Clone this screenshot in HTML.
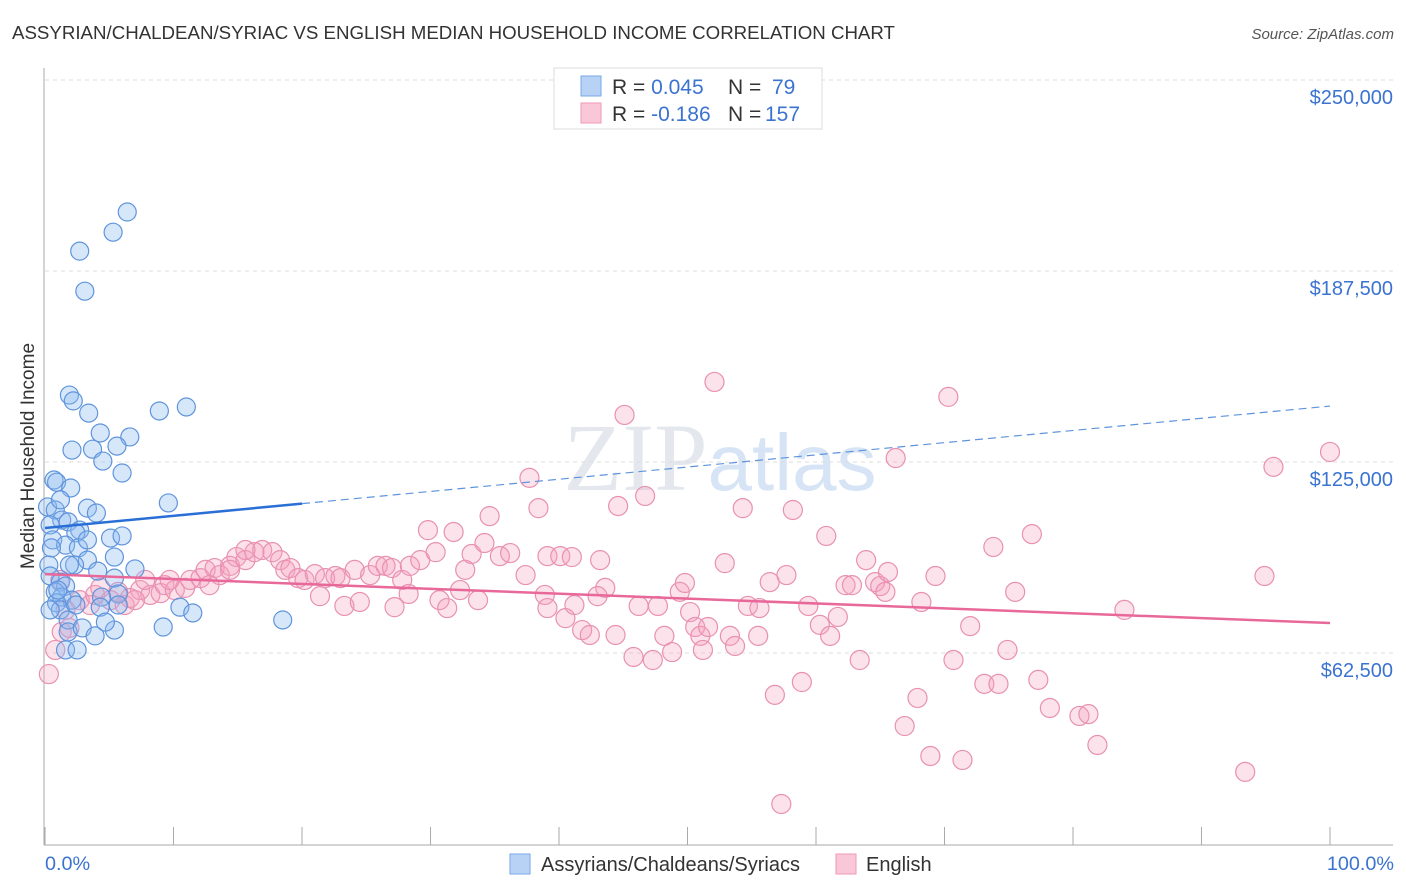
<!DOCTYPE html>
<html><head><meta charset="utf-8"><style>
body{margin:0;background:#fff;font-family:"Liberation Sans",sans-serif;}
svg{display:block}
</style></head><body>
<svg id="chart" width="1406" height="892">
<text x="12" y="39" font-size="18.7" fill="#333">ASSYRIAN/CHALDEAN/SYRIAC VS ENGLISH MEDIAN HOUSEHOLD INCOME CORRELATION CHART</text>
<text x="1394" y="39" font-size="15" fill="#555" font-style="italic" text-anchor="end">Source: ZipAtlas.com</text>
<text x="720" y="490" font-size="96" fill="#e4e8ee" text-anchor="middle" font-family="Liberation Serif,serif">ZIP<tspan fill="#d6e4f5" font-family="Liberation Sans,sans-serif" font-size="80">atlas</tspan></text>
<g id="grid"></g><g id="axes"></g><g id="pink"></g><g id="blue"></g><g id="trends"></g>
<text transform="translate(34,456) rotate(-90)" font-size="19" fill="#333" text-anchor="middle">Median Household Income</text>
<text x="45" y="870" font-size="19.8" fill="#3b73d1">0.0%</text>
<text x="1394" y="870" font-size="19.8" fill="#3b73d1" text-anchor="end">100.0%</text>
<g>
<rect x="554" y="68" width="268" height="61" fill="#fff" stroke="#ddd"/>
<rect x="581" y="76" width="20" height="20" fill="#b7d2f5" stroke="#7aa8e6"/>
<rect x="581" y="103" width="20" height="20" fill="#f9c7d7" stroke="#ee9ab6"/>
<text x="612" y="94" font-size="21" fill="#333">R = <tspan fill="#3b73d1">0.045</tspan><tspan x="728">N = </tspan><tspan fill="#3b73d1" x="772">79</tspan></text>
<text x="612" y="121" font-size="21" fill="#333">R = <tspan fill="#3b73d1">-0.186</tspan><tspan x="728">N = </tspan><tspan fill="#3b73d1" x="765">157</tspan></text>
</g>
<g>
<rect x="510" y="854" width="20" height="20" fill="#b7d2f5" stroke="#7aa8e6"/>
<text x="541" y="871" font-size="20" fill="#333">Assyrians/Chaldeans/Syriacs</text>
<rect x="836" y="854" width="20" height="20" fill="#f9c7d7" stroke="#ee9ab6"/>
<text x="866" y="871" font-size="20" fill="#333">English</text>
</g>
</svg>
<script>
const yTicks=[62500,125000,187500,250000];
const yTickLabels=["$62,500","$125,000","$187,500","$250,000"];
const xTicks=[0,10,20,30,40,50,60,70,80,90,100];
const blueX=[6.4,5.3,2.7,3.1,1.9,2.2,3.4,8.9,11.0,4.3,6.6,2.1,3.7,5.6,4.5,6.0,0.7,0.9,2.0,9.6,3.3,4.0,0.2,0.8,1.2,1.3,0.4,1.8,2.7,2.4,5.1,6.0,0.6,1.6,2.6,5.4,3.3,0.3,2.3,7.0,4.1,5.4,0.4,1.2,1.6,0.8,5.7,1.3,2.1,0.9,1.2,4.4,2.4,1.8,4.3,5.7,10.5,11.5,9.2,18.5,1.8,2.9,3.9,5.4,4.7,1.6,2.5,0.4,1.0,0.5,1.9,3.3];
const blueY=[206.8,200.2,194.0,180.9,146.9,145.0,141.0,141.7,143.0,134.5,133.2,128.9,129.2,130.2,125.3,121.4,119.1,118.4,116.5,111.6,109.9,108.3,110.3,109.3,112.6,106.0,104.4,105.4,102.7,101.8,100.1,100.8,99.5,97.8,96.9,93.9,92.9,91.3,91.3,90.0,89.3,87.0,87.7,85.7,84.4,82.5,81.8,80.8,79.8,78.9,76.6,80.8,78.2,73.3,77.5,78.2,77.5,75.6,71.0,73.3,69.4,70.7,68.1,70.0,72.6,63.5,63.5,76.6,83.1,96.9,91.3,99.5];
const pinkX=[0.3,0.8,1.3,1.9,1.6,2.7,3.5,3.9,5.1,6.2,6.6,7.4,8.2,9.0,9.3,10.1,10.9,11.3,12.1,12.5,13.2,13.6,14.4,14.9,15.6,16.3,16.9,17.7,18.3,18.7,19.1,19.7,20.2,21.0,21.4,21.8,22.6,23.0,23.3,24.1,24.5,25.3,25.9,26.5,27.0,27.2,27.8,28.3,28.4,29.2,29.8,30.4,30.7,31.3,31.8,32.3,32.7,33.2,33.7,34.2,34.6,35.4,36.2,37.4,37.7,38.4,38.9,39.1,39.1,40.1,40.5,41.0,41.2,41.8,42.4,43.2,43.6,43.0,44.4,44.6,45.1,45.8,46.2,46.7,47.3,47.7,48.2,48.8,49.4,49.8,50.2,50.6,51.0,51.2,51.6,52.1,52.9,53.3,53.7,54.3,54.7,55.5,55.6,56.4,56.8,57.3,57.7,58.2,58.9,59.4,60.3,60.8,61.1,61.7,62.3,62.8,63.4,63.9,64.6,65.0,65.4,65.6,66.2,66.9,67.9,68.2,68.9,69.3,70.3,70.7,71.4,72.0,73.1,73.8,74.2,74.9,75.5,76.8,77.3,78.2,80.5,81.2,81.9,84.0,93.4,94.9,95.6,100.0,4.3,5.7,7.8,9.7,12.8,14.4,15.6,7.0,1.2];
const pinkY=[55.6,63.5,69.4,70.7,76.6,79.8,78.2,81.5,79.8,78.2,80.5,83.1,81.5,82.1,84.7,83.1,83.8,86.4,87.0,89.7,90.3,88.0,91.0,93.9,92.9,95.5,96.2,95.5,92.9,89.7,90.3,87.0,86.4,88.3,81.1,87.0,87.7,87.0,77.9,89.7,79.2,88.0,91.0,91.0,90.3,77.5,86.4,81.8,91.0,92.9,102.7,95.5,79.8,77.2,102.1,83.1,89.7,94.9,79.8,98.5,107.3,94.2,95.2,88.0,119.8,109.9,81.5,77.2,94.2,94.2,73.9,93.9,78.2,70.0,68.4,92.9,83.8,81.1,68.4,110.6,140.4,61.2,77.9,113.9,60.2,77.9,68.1,62.8,82.5,85.4,75.9,71.0,68.1,63.5,71.0,151.2,91.9,68.1,64.8,109.9,77.9,68.1,77.2,85.7,48.8,13.1,88.0,109.3,53.0,77.9,71.7,100.8,68.1,74.3,84.7,84.7,60.2,92.9,85.7,84.4,82.5,89.0,126.3,38.6,47.8,79.2,28.8,87.7,146.3,60.2,27.5,71.3,52.4,97.2,52.4,63.5,82.5,101.4,53.7,44.5,41.9,42.5,32.4,76.6,23.6,87.7,123.4,128.3,83.8,82.5,86.4,86.4,84.7,89.7,96.2,79.8,86.4];
const blueTrend=[103.4,143.3], pinkTrend=[88.3,72.3];
const NS="http://www.w3.org/2000/svg";
const X=p=>45+p*12.85, Y=k=>844-k*1000/62500*191;
function mk(t,a,p){const e=document.createElementNS(NS,t);for(const k in a)e.setAttribute(k,a[k]);p.appendChild(e);return e;}
const grid=document.getElementById('grid'),axes=document.getElementById('axes');
yTicks.forEach((v,i)=>{
 const yy=Y(v/1000);
 const l=mk('line',{x1:45,x2:1393,y1:yy,y2:yy,stroke:'#ddd','stroke-dasharray':'4,4'},grid);
 
 
 const t=mk('text',{x:1393,y:yy+24,'font-size':20,fill:'#3b73d1','text-anchor':'end'},grid);
 t.textContent=yTickLabels[i];
 
 
});
const ya=mk('line',{x1:44,x2:44,y1:68,y2:845,stroke:'#aaa'},axes);


const xa=mk('line',{x1:44,x2:1393,y1:845,y2:845,stroke:'#aaa'},axes);


xTicks.forEach(p=>{const t=mk('line',{x1:X(p),x2:X(p),y1:827,y2:845,stroke:'#aaa'},axes);
 
 });
const pg=document.getElementById('pink');
pinkX.forEach((p,i)=>{const c=mk('circle',{cx:X(p),cy:Y(pinkY[i]),r:9.5,fill:'rgba(245,160,190,0.3)',stroke:'#e891b1','stroke-width':1.2},pg);
 
 });
const bg=document.getElementById('blue');
blueX.forEach((p,i)=>{const c=mk('circle',{cx:X(p),cy:Y(blueY[i]),r:9,fill:'rgba(140,185,240,0.35)',stroke:'#5f94dc','stroke-width':1.2},bg);
 
 });
const tg=document.getElementById('trends');
const bAt=p=>blueTrend[0]+(blueTrend[1]-blueTrend[0])*p/100;
const b1=mk('line',{x1:X(0),y1:Y(bAt(0)),x2:X(20),y2:Y(bAt(20)),stroke:'#2a6fd6','stroke-width':2.5},tg);


const b2=mk('line',{x1:X(20),y1:Y(bAt(20)),x2:X(100),y2:Y(bAt(100)),stroke:'#5f94dc','stroke-width':1.2,'stroke-dasharray':'8,5'},tg);


const p1=mk('line',{x1:X(0),y1:Y(pinkTrend[0]),x2:X(100),y2:Y(pinkTrend[1]),stroke:'#e8689a','stroke-width':2.5},tg);


</script>
</body></html>
